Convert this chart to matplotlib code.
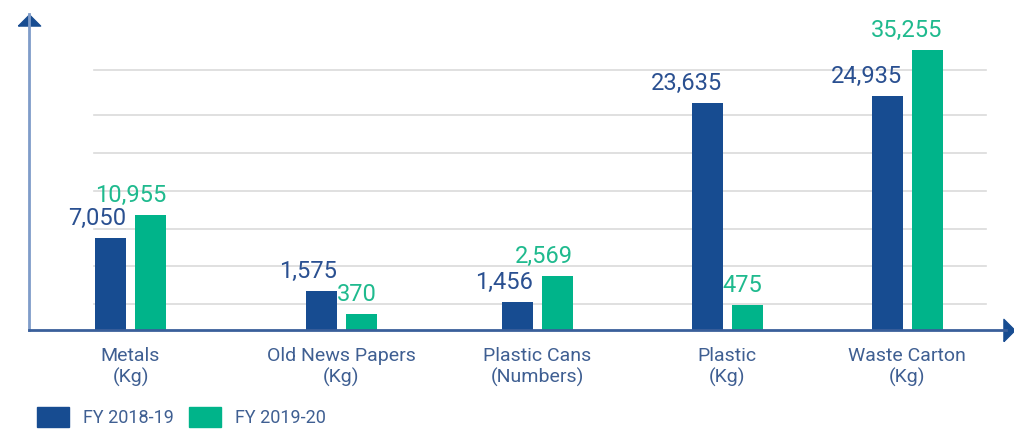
import matplotlib.pyplot as plt
from matplotlib.patches import Patch

categories = ['Metals\n(Kg)', 'Old News Papers\n(Kg)', 'Plastic Cans\n(Numbers)',
              'Plastic\n(Kg)', 'Waste Carton\n(Kg)']
fy1819 = [7050, 1575, 1456, 23635, 24935]
fy1920 = [10955, 370, 2569, 475, 35255]
# the drawing is not to scale, so bar lengths are read off the picture (no y scale shown)
drawn_1819 = [92, 39, 28, 227, 234]
drawn_1920 = [115, 16, 54, 25, 280]

blue = '#174c91'
green = '#00b48a'
label_blue = '#2a5091'
label_green = '#1fba8e'
text_col = '#3f5f92'

plt.rcParams['font.family'] = ['Roboto', 'DejaVu Sans']

fig = plt.figure(figsize=(10.14, 4.34), dpi=100)
ax = fig.add_axes([29 / 1014, 104 / 434, 985 / 1014, 316 / 434])
ax.set_xlim(29, 1014)
ax.set_ylim(0, 316)

group_x = [130.5, 341.5, 537.5, 727, 907]
w = 31
off = 20

for gy in [26, 64, 101, 139, 177, 215, 260]:
    ax.plot([94, 986], [gy, gy], color='#dadada', lw=1.2, zorder=0)

for i, cx in enumerate(group_x):
    ax.bar(cx - off, drawn_1819[i], width=w, color=blue, zorder=2)
    ax.bar(cx + off, drawn_1920[i], width=w, color=green, zorder=2)
    ax.annotate(f'{fy1819[i]:,}', (cx - off + w / 2, drawn_1819[i]), xytext=(0, 6),
                textcoords='offset points', ha='right', va='bottom',
                fontsize=17, color=label_blue)
    ax.annotate(f'{fy1920[i]:,}', (cx + off + w / 2, drawn_1920[i]), xytext=(0, 6),
                textcoords='offset points', ha='right', va='bottom',
                fontsize=17, color=label_green)

for s in ['top', 'right']:
    ax.spines[s].set_visible(False)
ax.spines['left'].set_color('#7f9cc9')
ax.spines['left'].set_linewidth(2)
ax.spines['bottom'].set_color('#3a5f9a')
ax.spines['bottom'].set_linewidth(2)
ax.spines['bottom'].set_bounds(29, 1006)

up = [(-1, -0.5), (1, -0.5), (0, 0.5), (-1, -0.5)]
right = [(-0.5, -1), (-0.5, 1), (0.5, 0), (-0.5, -1)]
ax.plot([29], [310.5], marker=up, markersize=16, color=blue, clip_on=False)
ax.plot([1009], [0], marker=right, markersize=16, color=blue, clip_on=False)

ax.set_yticks([])
ax.set_xticks(group_x)
ax.set_xticklabels(categories, fontsize=14, color=text_col, linespacing=1.2)
ax.tick_params(axis='x', length=0, pad=12)

handles = [Patch(color=blue, label='FY 2018-19'), Patch(color=green, label='FY 2019-20')]
fig.legend(handles=handles, loc='center left', bbox_to_anchor=(37 / 1014, 1 - 417 / 434),
           ncol=2, frameon=False, borderpad=0, borderaxespad=0,
           labelcolor=text_col, prop={'size': 13},
           handlelength=1.75, handleheight=1.3, handletextpad=0.8, columnspacing=0.85)

fig.savefig('out.png', dpi=100)
